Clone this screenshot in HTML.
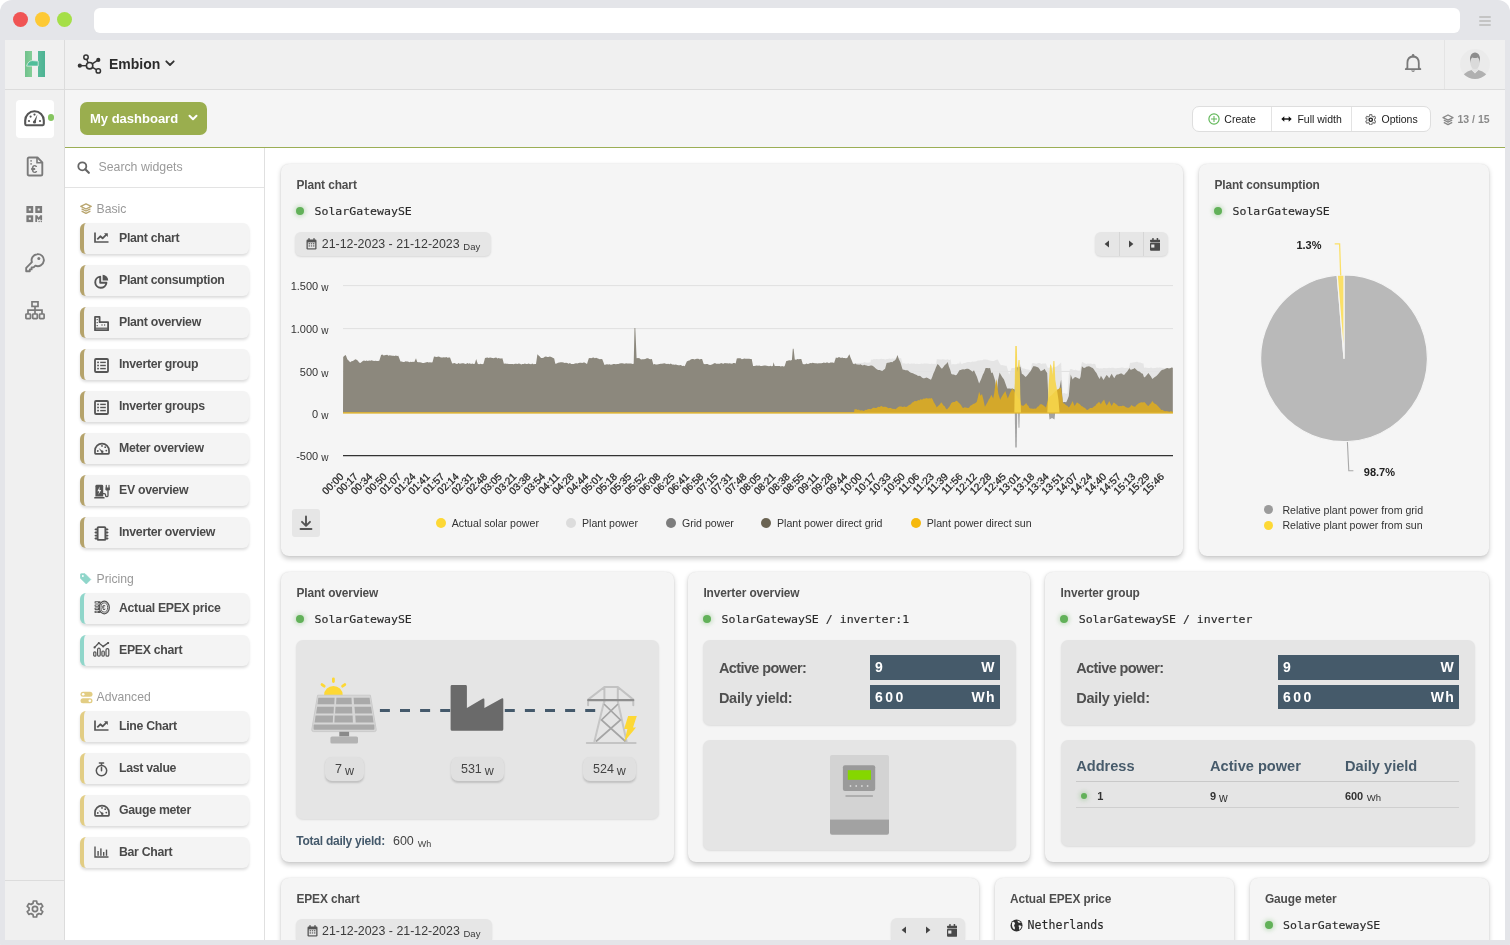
<!DOCTYPE html>
<html><head><meta charset="utf-8"><title>Embion dashboard</title>
<style>
*{box-sizing:border-box;margin:0;padding:0}
html,body{width:1510px;height:945px;overflow:hidden;background:#fff}
body{position:relative;font-family:"Liberation Sans",Arial,sans-serif;color:#444}
.abs{position:absolute}
.frame{position:absolute;left:0;top:0;width:1510px;height:955px;background:#e4e5e9;border-radius:12px}
.tl{position:absolute;top:12.2px;width:15px;height:15px;border-radius:50%}
.addr{position:absolute;left:94px;top:8px;width:1366px;height:25px;background:#fff;border-radius:6px}
.hb{position:absolute;left:1479px;width:12px;height:2px;background:#c4c4c4;border-radius:1px}
.win{position:absolute;left:5px;top:40px;width:1500px;height:900px;background:#fff;overflow:hidden;will-change:transform}
/* inside window everything uses page coords via .pc wrapper */
.pc{position:absolute;left:-5px;top:-40px;width:1510px;height:945px}
.side{position:absolute;left:5px;top:40px;width:60px;height:900px;background:#f0f0f0;border-right:1px solid #dcdcdc}
.head{position:absolute;left:65px;top:40px;width:1440px;height:50px;background:#f0f0f0;border-bottom:1px solid #dcdcdc}
.tool{position:absolute;left:65px;top:90px;width:1440px;height:57px;background:#f5f5f5}
.gline{position:absolute;left:65px;top:146.5px;width:1440px;height:1.5px;background:#9bae55}
.wpanel{position:absolute;left:65px;top:148px;width:200px;height:792px;background:#fff;border-right:1px solid #e0e0e0}
.card{position:absolute;background:#f5f5f5;border-radius:8px;box-shadow:0 2.5px 5px rgba(0,0,0,.2),0 0 1.5px rgba(0,0,0,.1)}
.ctitle{position:absolute;left:15.4px;top:14px;font-size:11.9px;letter-spacing:-0.1px;font-weight:bold;color:#4d4d4d;line-height:14px;white-space:nowrap}
.src{position:absolute;left:16px;top:40px;height:14px;white-space:nowrap;font-family:"DejaVu Sans Mono","Liberation Mono",monospace;font-size:11.55px;color:#2a2a2a;line-height:14px;-webkit-text-stroke:0.15px #2a2a2a}
.dot{position:absolute;width:8px;height:8px;border-radius:50%;background:#62b159;box-shadow:0 0 4px 1.5px rgba(98,177,89,.32)}
.src .dot{left:-1px;top:3px}
.src span.t{position:absolute;left:17.5px;top:0;transform:scaleY(0.94);transform-origin:0 11px}
.yl{font-size:11px;fill:#333;font-family:"Liberation Sans",Arial,sans-serif}
.yu{font-size:10px}
.xl{font-size:10.2px;font-weight:normal;fill:#2a2a2a;stroke:#2a2a2a;stroke-width:0.3px;font-family:"Liberation Sans",Arial,sans-serif}

.pill{position:absolute;height:24.4px;background:#e6e6e6;border-radius:6px;box-shadow:0 1px 2px rgba(0,0,0,.12)}
.pill .sep{position:absolute;top:0;width:1.2px;height:100%;background:#d6d6d6}
.pill .cal{position:absolute;left:11px;top:4.3px}
.pill .dr{position:absolute;left:26.5px;top:5.5px;font-size:12.4px;color:#3a3a3a;line-height:14px;white-space:nowrap}
.pill .day{position:absolute;left:168px;top:9px;font-size:9.5px;color:#3a3a3a;line-height:12px}
.leg{position:absolute;font-size:10.6px;color:#333;line-height:12px;white-space:nowrap;padding-left:11px}
.leg i{position:absolute;left:-5px;top:0.8px;width:10px;height:10px;border-radius:50%}

.pl{font-size:11px;font-weight:bold;fill:#222;font-family:"Liberation Sans",Arial,sans-serif}
.leg2{position:absolute;font-size:10.6px;color:#333;line-height:12px;white-space:nowrap;padding-left:13.5px}
.leg2 i{position:absolute;left:-4.5px;top:1.5px;width:9px;height:9px;border-radius:50%}
.ibox{position:absolute;background:#e5e5e5;border-radius:7px;box-shadow:0 1px 2px rgba(0,0,0,.10)}
.vbox{position:absolute;height:24px;background:#e0e0e0;border-radius:7px;box-shadow:0 1.5px 2px rgba(0,0,0,.16);text-align:center;white-space:nowrap;line-height:24px;color:#444}
.vbox b{font-weight:normal;font-size:12.5px;position:relative;top:-1.5px}
.vbox s{text-decoration:none;font-size:12.5px;margin-left:3px;position:relative;top:0.5px}
.tdy{position:absolute;left:15.3px;top:260.7px;white-space:nowrap;line-height:14px}
.tdy .k{font-size:12px;font-weight:bold;color:#44596b;letter-spacing:-0.25px}
.tdy .v{font-size:12.5px;color:#444;margin-left:8px}
.tdy .u{font-size:9px;color:#444;margin-left:4px;position:relative;top:2px}

.kl{position:absolute;font-size:14.5px;font-weight:bold;color:#505050;line-height:18px;white-space:nowrap;letter-spacing:-0.6px}
.vb{position:absolute;height:24.4px;background:#455a6a;color:#fff;font-weight:bold;font-size:14px;letter-spacing:2.5px;line-height:25.8px;white-space:nowrap}
.vb span{position:absolute;left:5px}
.vb em{font-style:normal;position:absolute;right:4px;letter-spacing:1.2px}
.th{position:absolute;top:186px;font-size:14.6px;font-weight:bold;color:#475b6b;line-height:17px;white-space:nowrap}
.td{position:absolute;top:217.5px;font-size:11px;font-weight:bold;color:#333;line-height:13px;white-space:nowrap}
.td s{text-decoration:none;font-weight:normal;font-size:9.5px;margin-left:3.5px;position:relative;top:1.5px}
.td s.w{font-size:12px;margin-left:3px;top:2px}
/* widget list */
.cat{position:absolute;left:80px;font-size:12.2px;color:#999;white-space:nowrap;line-height:14px}
.cat svg{position:absolute;left:0;top:1px}
.cat span{position:absolute;left:16.5px;top:0}
.wi{position:absolute;left:80px;width:169px;height:31px;background:#f4f4f4;border-radius:6px;box-shadow:0 2px 3px rgba(0,0,0,.14);border-left:4px solid #b5a36b;white-space:nowrap}
.wi.p{border-left-color:#8fd6ca}
.wi.a{border-left-color:#e2cd84}
.wi svg{position:absolute;left:9.5px;top:8.6px}
.wi span{position:absolute;left:35px;top:7.8px;font-size:12.3px;letter-spacing:-0.3px;font-weight:bold;color:#4a4a4a;line-height:14px}
.tb{top:113px;font-size:10.5px;color:#1a1a1a;line-height:12px;white-space:nowrap}
.sico{position:absolute;left:26px;width:18px;height:20px}
</style></head>
<body>
<div class="frame"></div>
<div class="tl" style="left:13.2px;background:#f05454"></div>
<div class="tl" style="left:35.4px;background:#fdc935"></div>
<div class="tl" style="left:57.3px;background:#a5df48"></div>
<div class="addr"></div>
<div class="hb" style="top:16px"></div>
<div class="hb" style="top:20px"></div>
<div class="hb" style="top:24px"></div>

<div class="win"><div class="pc">

  <div class="side"></div>
  <div class="abs" style="left:5px;top:89px;width:59px;height:1px;background:#dcdcdc"></div>
  <!-- logo -->
  <svg class="abs" style="left:25px;top:51px" width="20" height="26" viewBox="0 0 20 26">
    <defs><linearGradient id="lg1" x1="0" x2="1"><stop offset="0" stop-color="#6fc18c"/><stop offset="1" stop-color="#86cf98"/></linearGradient>
    <linearGradient id="lg2" x1="0" x2="1"><stop offset="0" stop-color="#5bbb9a"/><stop offset="1" stop-color="#4cb293"/></linearGradient></defs>
    <rect x="0" y="0" width="7" height="26" fill="url(#lg1)"/>
    <rect x="13" y="0" width="7" height="26" fill="url(#lg2)"/>
    <path d="M7.2 9.6 C4.5 9.8 2.6 11.6 1.6 15.1 L13.2 15.1 L13.2 10.1 Z" fill="#4fbe9a" stroke="#f0f0f0" stroke-width="0.7"/>
  </svg>
  <!-- active dashboard -->
  <div class="abs" style="left:16px;top:100px;width:38px;height:38px;background:#fff;border-radius:4px"></div>
  <svg class="abs" style="left:24px;top:109px" width="21" height="18" viewBox="0 0 21 18">
    <path d="M2.2 16.2 L18.8 16.2 Q19.8 16.2 19.8 14.8 L19.8 11.5 A9.3 9.3 0 0 0 1.2 11.5 L1.2 14.8 Q1.2 16.2 2.2 16.2 Z" fill="none" stroke="#555" stroke-width="2.1" stroke-linejoin="round"/>
    <path d="M9.4 12.8 L13.4 5.6 L11.6 13.4 Z" fill="#555"/>
    <circle cx="10.5" cy="13" r="1.6" fill="#555"/>
    <circle cx="5" cy="12" r="1.1" fill="#555"/><circle cx="6.6" cy="7.6" r="1.1" fill="#555"/><circle cx="10.5" cy="5.6" r="1.1" fill="#555"/><circle cx="16" cy="12" r="1.1" fill="#555"/>
  </svg>
  <div class="abs" style="left:47.8px;top:114.3px;width:6.5px;height:6.5px;border-radius:50%;background:#86c560"></div>
  <!-- invoice -->
  <svg class="abs" style="left:26px;top:156px" width="18" height="21" viewBox="0 0 18 21">
    <path d="M3 1.5 L11.5 1.5 L16.3 6.3 L16.3 18.2 Q16.3 19.5 15 19.5 L3 19.5 Q1.7 19.5 1.7 18.2 L1.7 2.8 Q1.7 1.5 3 1.5 Z" fill="none" stroke="#7a7a7a" stroke-width="1.9" stroke-linejoin="round"/>
    <path d="M11 1.8 L11 6.8 L16 6.8" fill="none" stroke="#7a7a7a" stroke-width="1.6"/>
    <rect x="4.3" y="4.2" width="1.6" height="1.4" fill="#7a7a7a"/><rect x="4.3" y="7.2" width="1.6" height="1.4" fill="#7a7a7a"/>
    <text x="5" y="17.4" font-size="11.5" font-weight="bold" fill="#7a7a7a" font-family="Liberation Sans">€</text>
  </svg>
  <!-- qr -->
  <svg class="abs" style="left:26px;top:206px" width="17" height="17" viewBox="0 0 17 17">
    <g fill="#7a7a7a"><rect x="0.4" y="0" width="6.8" height="7"/><rect x="9.3" y="0" width="6.8" height="7"/><rect x="0.4" y="9.3" width="6.8" height="6.8"/>
    <path d="M9.3 9.3 H11.2 L12.7 11.6 L14.2 9.3 H16.1 V14.2 H14.3 V12.5 L12.7 14.3 L11.1 12.5 V16.1 H9.3 Z"/><circle cx="13.1" cy="15.5" r="0.7"/><circle cx="15.3" cy="15.5" r="0.7"/></g>
    <g fill="#f0f0f0"><rect x="2.8" y="2.5" width="2" height="2"/><rect x="11.7" y="2.5" width="2" height="2"/><rect x="2.8" y="11.7" width="2" height="2"/></g>
  </svg>
  <!-- key -->
  <svg class="abs" style="left:24px;top:252px" width="21" height="21" viewBox="0 0 21 21">
    <path d="M13 2.2 A6 6 0 1 1 11.4 13.6 L9.6 15.4 L7.6 15.4 L7.6 17.4 L5.8 17.4 L5.8 19.2 L2.2 19.2 L2.2 15.8 L7.9 10.1 A6 6 0 0 1 13 2.2 Z" fill="none" stroke="#7a7a7a" stroke-width="1.9" stroke-linejoin="round"/>
    <circle cx="14.8" cy="6.4" r="1.5" fill="#7a7a7a"/>
  </svg>
  <!-- sitemap -->
  <svg class="abs" style="left:25px;top:301px" width="20" height="19" viewBox="0 0 20 19">
    <rect x="7" y="0.8" width="6" height="4.6" fill="none" stroke="#7a7a7a" stroke-width="1.7"/>
    <path d="M10 5.4 V9 M3 13 V9.2 H17 V13 M10 9 V13" fill="none" stroke="#7a7a7a" stroke-width="1.7"/>
    <rect x="0.9" y="13" width="4.6" height="4.6" rx="0.6" fill="none" stroke="#7a7a7a" stroke-width="1.7"/>
    <rect x="7.7" y="13" width="4.6" height="4.6" rx="0.6" fill="none" stroke="#7a7a7a" stroke-width="1.7"/>
    <rect x="14.5" y="13" width="4.6" height="4.6" rx="0.6" fill="none" stroke="#7a7a7a" stroke-width="1.7"/>
  </svg>
  <!-- bottom gear -->
  <div class="abs" style="left:5px;top:880px;width:59px;height:1px;background:#dcdcdc"></div>
  <svg class="abs" style="left:25.5px;top:900px" width="18" height="18" viewBox="-9 -9 18 18">
    <path id="gearp" d="M-1.6 -8 L1.6 -8 L2 -5.6 A6 6 0 0 1 3.9 -4.5 L6.2 -5.4 L7.8 -2.6 L5.9 -1.1 A6 6 0 0 1 5.9 1.1 L7.8 2.6 L6.2 5.4 L3.9 4.5 A6 6 0 0 1 2 5.6 L1.6 8 L-1.6 8 L-2 5.6 A6 6 0 0 1 -3.9 4.5 L-6.2 5.4 L-7.8 2.6 L-5.9 1.1 A6 6 0 0 1 -5.9 -1.1 L-7.8 -2.6 L-6.2 -5.4 L-3.9 -4.5 A6 6 0 0 1 -2 -5.6 Z" fill="none" stroke="#7a7a7a" stroke-width="1.7" stroke-linejoin="round"/>
    <circle cx="0" cy="0" r="2.6" fill="none" stroke="#7a7a7a" stroke-width="1.7"/>
  </svg>

  <div class="head"></div>
  <svg class="abs" style="left:77px;top:54px" width="25" height="21" viewBox="0 0 25 21">
    <g stroke="#333" stroke-width="1.4" fill="none">
      <line x1="12.6" y1="11.7" x2="9" y2="4"/><line x1="12.6" y1="11.7" x2="21.3" y2="5.9"/><line x1="12.6" y1="11.7" x2="21.3" y2="16.8"/><line x1="12.6" y1="11.7" x2="2.8" y2="11.7"/>
    </g>
    <circle cx="12.6" cy="11.7" r="3.2" fill="#f0f0f0" stroke="#333" stroke-width="1.6"/>
    <circle cx="9" cy="3.2" r="2.2" fill="#f0f0f0" stroke="#333" stroke-width="1.5"/>
    <circle cx="21.3" cy="5.9" r="2.1" fill="#333"/>
    <circle cx="21.3" cy="16.9" r="2.2" fill="#f0f0f0" stroke="#333" stroke-width="1.5"/>
    <circle cx="2.8" cy="11.7" r="2.1" fill="#333"/>
  </svg>
  <div class="abs" style="left:109px;top:55.8px;font-size:14px;font-weight:bold;color:#2b2b2b;line-height:17px">Embion</div>
  <svg class="abs" style="left:164.5px;top:60px" width="10" height="7" viewBox="0 0 10 7"><path d="M1.3 1.3 L5 5 L8.7 1.3" fill="none" stroke="#333" stroke-width="1.8" stroke-linecap="round" stroke-linejoin="round"/></svg>
  <!-- bell -->
  <svg class="abs" style="left:1404px;top:53px" width="18" height="21" viewBox="0 0 18 21">
    <circle cx="9.1" cy="2.3" r="1.3" fill="#7a7a7a"/>
    <path d="M3.4 14.8 L3.4 10 Q3.4 3.8 9.1 3.5 Q14.8 3.8 14.8 10 L14.8 14.8 L16.4 16.2 L1.8 16.2 Z" fill="none" stroke="#7a7a7a" stroke-width="1.8" stroke-linejoin="round"/>
    <path d="M6.9 17.6 Q9.1 20.2 11.3 17.6 Z" fill="#7a7a7a"/>
  </svg>
  <div class="abs" style="left:1444px;top:40px;width:1px;height:49px;background:#e4e4e4"></div>
  <!-- avatar -->
  <svg class="abs" style="left:1460px;top:49px" width="30" height="30" viewBox="0 0 30 30">
    <circle cx="15" cy="15" r="15" fill="#ebebeb"/>
    <path d="M3.8 25.2 Q7.5 22 11.6 21 L15 24.4 L18.4 21 Q22.5 22 26.2 25.2 Q21.5 30 15 30 Q8.5 30 3.8 25.2 Z" fill="#b0b0b0"/>
    <path d="M12 18.5 L18 18.5 L18.4 21 L15 24 L11.6 21 Z" fill="#e3e3e3"/>
    <ellipse cx="15" cy="13.6" rx="4.7" ry="6.6" fill="#dadada"/>
    <path d="M10.2 14 Q9.2 6 12.6 4.2 Q15 2.6 17.4 4.2 Q20.8 6 19.8 14 Q19.4 9.6 17.6 8.6 Q15 9.6 12.4 8.6 Q10.6 9.6 10.2 14 Z" fill="#8d8d8d"/>
  </svg>

  <div class="tool"></div>
  <div class="abs" style="left:80px;top:102px;width:127px;height:33px;background:#9aae4e;border-radius:7px"></div>
  <div class="abs" style="left:90px;top:109.5px;font-size:13px;font-weight:bold;color:#fff;line-height:17px">My dashboard</div>
  <svg class="abs" style="left:188px;top:114px" width="10" height="8" viewBox="0 0 10 8"><path d="M1.5 1.8 L5 5.3 L8.5 1.8" fill="none" stroke="#fff" stroke-width="2" stroke-linecap="round" stroke-linejoin="round"/></svg>
  <div class="abs" style="left:1192px;top:106px;width:239.3px;height:25.8px;background:#fff;border:1px solid #dedede;border-radius:7px"></div>
  <div class="abs" style="left:1271px;top:107px;width:1px;height:24px;background:#e3e3e3"></div>
  <div class="abs" style="left:1351.3px;top:107px;width:1px;height:24px;background:#e3e3e3"></div>
  <svg class="abs" style="left:1207.5px;top:113px" width="12" height="12" viewBox="0 0 12 12"><circle cx="6" cy="6" r="5.1" fill="none" stroke="#62b85a" stroke-width="1.2"/><path d="M6 3 V9 M3 6 H9" stroke="#62b85a" stroke-width="1.05"/></svg>
  <div class="abs tb" style="left:1224.3px">Create</div>
  <svg class="abs" style="left:1280.5px;top:115px" width="11" height="8" viewBox="0 0 11 8"><path d="M2 4 H9" stroke="#111" stroke-width="1.4"/><path d="M0.3 4 L3.3 1.3 V6.7 Z M10.7 4 L7.7 1.3 V6.7 Z" fill="#111"/></svg>
  <div class="abs tb" style="left:1297.4px">Full width</div>
  <svg class="abs" style="left:1364.7px;top:113.5px" width="11.5" height="11.5" viewBox="-9 -9 18 18"><use href="#gearp" stroke="#222" stroke-width="2.2"/><circle r="2.6" fill="none" stroke="#222" stroke-width="2.2"/></svg>
  <div class="abs tb" style="left:1381.5px">Options</div>
  <svg class="abs" style="left:1441.5px;top:113.5px" width="12" height="12" viewBox="0 0 12 12"><g fill="none" stroke="#888" stroke-width="1.3" stroke-linejoin="round"><path d="M6 1 L11 3.6 L6 6.2 L1 3.6 Z"/><path d="M1.8 6 L6 8.2 L10.2 6"/><path d="M1.8 8.4 L6 10.6 L10.2 8.4"/></g></svg>
  <div class="abs" style="left:1457.5px;top:113px;font-size:10.5px;font-weight:bold;color:#8a8a8a;line-height:12px">13 / 15</div>
  <div class="gline"></div>

  <div class="wpanel"></div>
  <div class="abs" style="left:65px;top:187px;width:199px;height:1px;background:#e3e3e3"></div>
  <svg class="abs" style="left:77.3px;top:161px" width="13" height="13" viewBox="0 0 13 13"><circle cx="5.3" cy="5.3" r="4" fill="none" stroke="#666" stroke-width="1.8"/><path d="M8.3 8.3 L11.8 11.8" stroke="#666" stroke-width="2.2" stroke-linecap="round"/></svg>
  <div class="abs" style="left:98.5px;top:160px;font-size:12.3px;color:#9a9a9a;line-height:15px">Search widgets</div>
  <div class="cat" style="top:201.5px"><svg width="12" height="12" viewBox="0 0 12 12"><g fill="none" stroke="#b9a56e" stroke-width="1.3" stroke-linejoin="round"><path d="M6 0.8 L11.2 3.4 L6 6 L0.8 3.4 Z"/><path d="M1.6 5.8 L6 8 L10.4 5.8"/><path d="M1.6 8.2 L6 10.4 L10.4 8.2"/></g></svg><span>Basic</span></div>
  <div class="cat" style="top:571.5px"><svg width="11.5" height="11" viewBox="0 0 13 12"><path d="M0.5 1.5 Q0.5 0.5 1.5 0.5 H5.6 L12.2 7.1 L7.1 12.2 L0.5 5.6 Z" fill="#8fd6ca" stroke="#8fd6ca" stroke-width="0.8" stroke-linejoin="round"/><circle cx="3.2" cy="3.2" r="1.1" fill="#fff"/></svg><span>Pricing</span></div>
  <div class="cat" style="top:689.5px"><svg width="13" height="13" viewBox="0 0 13 13"><rect x="0.5" y="0.7" width="12" height="5" rx="2.5" fill="#e2cd84"/><rect x="0.5" y="7.3" width="12" height="5" rx="2.5" fill="#e2cd84"/><circle cx="3.2" cy="3.2" r="1.3" fill="#fff"/><circle cx="9.8" cy="9.8" r="1.3" fill="#fff"/></svg><span>Advanced</span></div>

  <div class="wi " style="top:223px"><svg width="15" height="11" viewBox="0 0 15 11"><path d="M1 0.5 V10 H14.5" fill="none" stroke="#555" stroke-width="1.7"/><path d="M3.3 7.3 L6.3 4.3 L8.6 6.3 L12.3 2.6" fill="none" stroke="#555" stroke-width="1.8" stroke-linejoin="round"/><path d="M10 1.2 L13.8 1.2 L13.8 5 Z" fill="#555"/></svg><span>Plant chart</span></div>
  <div class="wi " style="top:265px"><svg width="15" height="15" viewBox="0 0 15 15"><path d="M6.2 2.6 A5.6 5.6 0 1 0 12.4 8.8 L6.2 8.8 Z" fill="none" stroke="#555" stroke-width="1.9" stroke-linejoin="round"/><path d="M8.6 0.8 A5.6 5.6 0 0 1 14.2 6.4 L8.6 6.4 Z" fill="#555"/></svg><span>Plant consumption</span></div>
  <div class="wi " style="top:307px"><svg width="15" height="15" viewBox="0 0 15 15"><path d="M1 14.2 V0.9 H5.6 V6.2 H14.1 V14.2 Z" fill="none" stroke="#555" stroke-width="1.8" stroke-linejoin="round"/><g fill="#555"><rect x="2.6" y="3" width="1.2" height="1.2"/><rect x="2.6" y="6" width="1.2" height="1.2"/><rect x="2.6" y="9" width="1.2" height="1.2"/><rect x="7.4" y="8.4" width="1.2" height="1.2"/><rect x="10" y="8.4" width="1.2" height="1.2"/><rect x="1.4" y="11.6" width="12.4" height="1.2"/></g></svg><span>Plant overview</span></div>
  <div class="wi " style="top:349px"><svg width="15" height="15" viewBox="0 0 15 15"><rect x="1" y="1" width="13" height="13" rx="1" fill="none" stroke="#555" stroke-width="1.8"/><g fill="#555"><rect x="3.2" y="3.6" width="1.7" height="1.6"/><rect x="3.2" y="6.7" width="1.7" height="1.6"/><rect x="3.2" y="9.8" width="1.7" height="1.6"/><rect x="6.2" y="3.7" width="5.6" height="1.4"/><rect x="6.2" y="6.8" width="5.6" height="1.4"/><rect x="6.2" y="9.9" width="5.6" height="1.4"/></g></svg><span>Inverter group</span></div>
  <div class="wi " style="top:391px"><svg width="15" height="15" viewBox="0 0 15 15"><rect x="1" y="1" width="13" height="13" rx="1" fill="none" stroke="#555" stroke-width="1.8"/><g fill="#555"><rect x="3.2" y="3.6" width="1.7" height="1.6"/><rect x="3.2" y="6.7" width="1.7" height="1.6"/><rect x="3.2" y="9.8" width="1.7" height="1.6"/><rect x="6.2" y="3.7" width="5.6" height="1.4"/><rect x="6.2" y="6.8" width="5.6" height="1.4"/><rect x="6.2" y="9.9" width="5.6" height="1.4"/></g></svg><span>Inverter groups</span></div>
  <div class="wi " style="top:433px"><svg width="16" height="13" viewBox="0 0 16 13"><path d="M1.7 11.8 H14.3 Q15 11.8 15 11 V8.6 A7 7 0 0 0 1 8.6 V11 Q1 11.8 1.7 11.8 Z" fill="none" stroke="#555" stroke-width="1.7" stroke-linejoin="round"/><path d="M8.9 9.2 L4.6 6 L7.6 10.4 Z" fill="#555"/><circle cx="8.3" cy="9.8" r="1.2" fill="#555"/><circle cx="3.8" cy="9" r="0.9" fill="#555"/><circle cx="8" cy="3.9" r="0.9" fill="#555"/><circle cx="11.2" cy="5.2" r="0.9" fill="#555"/><circle cx="12.3" cy="8.6" r="0.9" fill="#555"/></svg><span>Meter overview</span></div>
  <div class="wi " style="top:475px"><svg width="16" height="15" viewBox="0 0 16 15"><path d="M1.4 12.6 V2.2 Q1.4 0.8 2.8 0.8 H7.8 Q9.2 0.8 9.2 2.2 V12.6 Z" fill="#555"/><rect x="0.2" y="13" width="10.4" height="1.6" rx="0.4" fill="#555"/><path d="M5.8 2.6 L3.4 7.2 H5.2 L4.4 10.8 L7.2 6 H5.4 Z" fill="#f4f4f4"/><path d="M9 9.6 H10.2 Q11.6 9.6 11.6 11 V11.4 Q11.6 12.6 12.8 12.6 Q14 12.6 14 11.4 V6.6" fill="none" stroke="#555" stroke-width="1.3"/><path d="M12.3 1.4 V3.6 M15 1.4 V3.6" stroke="#555" stroke-width="1.2" stroke-linecap="round"/><path d="M11.4 3.6 H15.9 V5.2 Q15.9 6.8 13.65 6.8 Q11.4 6.8 11.4 5.2 Z" fill="#555"/></svg><span>EV overview</span></div>
  <div class="wi " style="top:517px"><svg width="15" height="15" viewBox="0 0 15 15"><rect x="3.6" y="1.1" width="7.8" height="12.8" rx="0.9" fill="none" stroke="#555" stroke-width="1.9"/><g fill="#555"><path d="M3 2.4 H1.2 L0.4 3.3 L1.2 4.2 H3 Z"/><path d="M3 5.6 H1.2 L0.4 6.5 L1.2 7.4 H3 Z"/><path d="M3 8.8 H1.2 L0.4 9.7 L1.2 10.6 H3 Z"/><path d="M3 11.6 H1.2 L0.4 12.5 L1.2 13.4 H3 Z"/><path d="M12 2.4 H13.8 L14.6 3.3 L13.8 4.2 H12 Z"/><path d="M12 5.6 H13.8 L14.6 6.5 L13.8 7.4 H12 Z"/><path d="M12 8.8 H13.8 L14.6 9.7 L13.8 10.6 H12 Z"/><path d="M12 11.6 H13.8 L14.6 12.5 L13.8 13.4 H12 Z"/></g></svg><span>Inverter overview</span></div>
  <div class="wi p" style="top:593px"><svg width="16" height="16" viewBox="0 0 16 16" style="top:7.4px"><g fill="#555"><rect x="0.6" y="1.2" width="6" height="2.3" rx="0.6"/><rect x="0.6" y="4.4" width="6" height="2.3" rx="0.6"/><rect x="0.6" y="7.6" width="6" height="2.3" rx="0.6"/><rect x="0.6" y="10.8" width="6" height="2.3" rx="0.6"/></g><g fill="#f4f4f4"><rect x="1.6" y="2" width="2.4" height="0.7"/><rect x="1.6" y="5.2" width="2.4" height="0.7"/><rect x="1.6" y="8.4" width="2.4" height="0.7"/><rect x="1.6" y="11.6" width="2.4" height="0.7"/></g><ellipse cx="10.3" cy="7.5" rx="5" ry="6.3" fill="#f4f4f4" stroke="#555" stroke-width="1.3"/><ellipse cx="10.3" cy="7.5" rx="3.3" ry="4.6" fill="none" stroke="#555" stroke-width="0.9"/><text x="8.1" y="10" font-size="6.5" font-weight="bold" fill="#555" font-family="Liberation Sans">€</text></svg><span>Actual EPEX price</span></div>
  <div class="wi p" style="top:635px"><svg width="17" height="15" viewBox="0 0 17 15" style="top:7.2px;left:9.3px"><path d="M1.6 5.4 L5.8 1 L10.2 4.4 L15.2 0.9" fill="none" stroke="#555" stroke-width="1.3" stroke-linejoin="round"/><g fill="#555"><circle cx="1.6" cy="5.4" r="1.1"/><circle cx="5.8" cy="1" r="1"/><circle cx="10.2" cy="4.4" r="1"/><circle cx="15.2" cy="0.9" r="1"/></g><g fill="none" stroke="#555" stroke-width="1.2"><rect x="0.7" y="9.8" width="2.2" height="4.4" rx="1"/><rect x="4.6" y="6.2" width="2.6" height="8" rx="1.2"/><rect x="8.9" y="9" width="2.4" height="5.2" rx="1.1"/><rect x="13" y="6.6" width="2.8" height="7.6" rx="1.3"/></g></svg><span>EPEX chart</span></div>
  <div class="wi a" style="top:711px"><svg width="15" height="11" viewBox="0 0 15 11"><path d="M1 0.5 V10 H14.5" fill="none" stroke="#555" stroke-width="1.7"/><path d="M3.3 7.3 L6.3 4.3 L8.6 6.3 L12.3 2.6" fill="none" stroke="#555" stroke-width="1.8" stroke-linejoin="round"/><path d="M10 1.2 L13.8 1.2 L13.8 5 Z" fill="#555"/></svg><span>Line Chart</span></div>
  <div class="wi a" style="top:753px"><svg width="15" height="15" viewBox="0 0 15 15"><circle cx="7.5" cy="8.6" r="5.2" fill="none" stroke="#555" stroke-width="1.5"/><path d="M5.4 1 H9.6 M7.5 1 V3.4 M7.5 8.8 V5.6" stroke="#555" stroke-width="1.5" stroke-linecap="round"/></svg><span>Last value</span></div>
  <div class="wi a" style="top:795px"><svg width="16" height="13" viewBox="0 0 16 13"><path d="M1.7 11.8 H14.3 Q15 11.8 15 11 V8.6 A7 7 0 0 0 1 8.6 V11 Q1 11.8 1.7 11.8 Z" fill="none" stroke="#555" stroke-width="1.7" stroke-linejoin="round"/><path d="M8.9 9.2 L4.6 6 L7.6 10.4 Z" fill="#555"/><circle cx="8.3" cy="9.8" r="1.2" fill="#555"/><circle cx="3.8" cy="9" r="0.9" fill="#555"/><circle cx="8" cy="3.9" r="0.9" fill="#555"/><circle cx="11.2" cy="5.2" r="0.9" fill="#555"/><circle cx="12.3" cy="8.6" r="0.9" fill="#555"/></svg><span>Gauge meter</span></div>
  <div class="wi a" style="top:837px"><svg width="15" height="12" viewBox="0 0 15 12"><path d="M1 0.6 V11 H14.5" fill="none" stroke="#555" stroke-width="1.4"/><g fill="#555"><rect x="3.4" y="5" width="1.4" height="4.8"/><rect x="6.2" y="2.4" width="1.4" height="7.4"/><rect x="9" y="6" width="1.4" height="3.8"/><rect x="11.8" y="3.6" width="1.4" height="6.2"/></g></svg><span>Bar Chart</span></div>

  <!-- Row 1 -->
  <div class="card" style="left:281px;top:164px;width:902px;height:392px">
    <div class="ctitle">Plant chart</div>
    <div class="src"><i class="dot"></i><span class="t">SolarGatewaySE</span></div>
    <svg class="abs" style="left:0;top:0" width="902" height="392" viewBox="0 0 902 392">
<line x1="62" x2="892" y1="121.6" y2="121.6" stroke="#e0e0e0" stroke-width="1"/>
<line x1="62" x2="892" y1="164.6" y2="164.6" stroke="#e0e0e0" stroke-width="1"/>
<line x1="62" x2="892" y1="207.4" y2="207.4" stroke="#e0e0e0" stroke-width="1"/>
<polygon points="572.0,248.8 572.0,199.5 572.8,199.0 574.3,199.0 575.8,199.0 577.4,199.0 578.9,199.1 580.4,198.8 581.9,198.9 583.4,198.1 584.9,198.4 586.5,198.7 588.0,198.4 589.5,198.2 590.0,195.5 591.4,195.8 592.8,195.1 594.3,195.3 595.7,195.1 597.1,195.3 598.5,195.3 599.9,194.8 601.3,194.9 602.8,194.9 604.2,195.4 605.6,195.0 607.1,195.1 608.5,194.6 610.0,195.0 611.4,194.4 612.9,194.7 614.3,194.2 615.8,194.0 617.2,194.7 618.6,194.0 620.1,194.2 621.6,199.4 623.1,199.2 624.5,199.8 626.0,199.8 627.4,199.3 628.9,199.9 630.3,199.6 631.8,199.7 633.2,199.4 634.7,200.0 636.1,199.8 637.6,200.1 639.0,200.0 640.5,199.6 641.9,199.7 643.4,199.5 644.8,199.5 646.3,199.5 647.7,199.7 649.2,200.0 650.6,199.5 652.1,200.1 653.5,199.8 655.0,200.0 655.8,195.3 657.3,195.2 658.9,195.6 660.4,195.4 662.0,195.3 663.5,195.5 665.1,195.7 666.6,195.2 668.2,195.9 669.7,195.6 670.4,200.4 672.0,199.9 673.6,200.3 675.2,200.3 676.8,199.5 678.4,199.7 679.0,197.0 680.0,199.7 681.4,199.7 682.8,199.1 684.2,199.0 685.6,198.3 687.1,198.1 688.5,198.0 689.9,198.3 691.3,197.5 692.7,197.7 694.1,197.6 695.5,197.3 696.9,196.6 698.4,196.4 699.8,196.3 701.2,196.2 702.6,195.4 704.0,195.5 706.5,195.8 708.1,196.3 709.7,196.7 711.3,197.1 712.9,197.1 714.8,195.9 716.7,195.4 718.3,198.7 719.9,201.3 721.3,201.1 722.8,201.4 724.2,201.8 725.6,201.8 728.1,210.4 730.6,204.1 733.2,204.1 734.8,203.5 736.4,202.1 737.9,201.6 739.5,200.3 740.8,204.1 742.3,204.6 743.8,204.8 745.2,205.2 746.7,205.5 748.2,205.8 749.7,206.6 751.0,199.2 752.5,199.0 754.1,199.4 755.6,199.7 757.2,199.1 758.7,199.1 760.3,199.9 761.8,199.5 763.4,199.5 764.9,199.6 766.8,204.1 768.5,203.6 770.1,203.7 771.8,203.6 773.4,203.0 775.1,202.8 777.0,201.5 778.5,199.9 780.1,198.4 781.7,229.5 783.3,229.1 784.9,229.8 786.5,229.5 787.8,210.4 789.0,205.3 790.5,205.1 791.9,205.7 793.4,206.1 794.8,205.7 796.3,206.4 797.7,206.8 799.2,206.6 801.1,197.7 802.6,198.8 804.1,199.6 805.5,199.9 807.0,199.4 808.4,199.7 809.9,199.5 811.3,200.2 812.8,199.8 814.2,200.0 815.5,204.1 816.9,204.0 818.3,204.5 819.7,204.3 821.1,204.4 822.5,204.0 824.0,204.0 825.4,204.2 826.8,204.0 828.2,203.8 829.6,203.9 831.0,203.7 832.4,203.8 833.8,204.3 835.2,204.3 836.6,204.0 838.0,203.9 839.4,203.7 840.9,203.5 842.3,203.7 843.7,204.1 845.1,204.1 846.5,203.7 847.9,203.8 849.1,198.7 850.5,198.7 851.9,198.5 853.3,198.3 854.7,198.0 856.1,197.7 857.7,198.4 859.3,198.5 860.9,199.3 862.5,199.6 863.1,203.8 864.5,203.6 865.9,203.8 867.4,204.0 868.8,204.0 870.2,203.6 871.7,204.2 873.1,203.9 874.5,203.9 875.9,203.4 877.3,203.8 878.8,203.6 880.2,203.8 881.9,204.1 883.6,204.1 885.3,204.3 886.9,204.4 888.5,204.2 890.2,204.2 891.8,203.8 891.8,248.8" fill="#e3e3e3" fill-opacity="0.9"/>
<polygon points="62.0,248.8 62.2,193.1 63.5,191.8 64.8,191.0 66.3,195.3 67.8,196.8 69.2,198.2 70.5,197.3 71.8,196.9 73.0,196.2 74.3,195.3 75.6,195.8 76.9,196.7 78.1,198.4 79.4,199.0 80.6,197.9 81.8,197.1 83.0,196.5 84.3,197.0 85.6,196.5 86.8,196.9 88.1,196.6 89.4,196.8 90.6,196.3 91.9,196.8 93.2,197.1 94.5,196.7 95.8,197.0 97.0,196.9 98.3,196.8 100.1,191.0 101.3,190.6 102.6,191.4 103.8,191.2 105.0,191.0 106.2,190.8 107.5,191.7 108.7,191.3 109.9,191.6 111.2,191.8 112.4,191.7 113.6,192.0 114.8,191.5 116.1,192.0 117.3,191.7 119.5,197.5 120.8,197.5 122.0,198.0 123.3,198.0 124.5,197.3 125.8,197.4 127.0,197.5 128.3,198.3 129.5,197.8 130.8,198.0 132.0,197.8 133.3,198.0 135.0,194.2 136.2,198.0 137.5,198.2 138.8,198.3 140.2,198.5 141.5,198.9 142.8,199.0 144.6,198.6 146.4,198.0 147.7,198.5 148.9,198.3 150.2,198.6 151.5,198.2 153.0,192.4 154.2,192.8 155.5,193.1 156.7,192.8 157.9,192.4 159.2,193.2 160.4,193.4 161.6,193.5 162.8,193.2 164.1,193.4 165.3,193.0 166.5,193.7 167.8,193.6 169.0,193.6 171.2,199.4 172.5,199.2 173.7,199.0 175.0,199.8 176.2,200.0 177.5,199.1 178.7,199.8 180.0,199.4 181.2,199.2 182.5,199.3 183.8,199.8 185.0,200.0 186.3,199.1 187.5,199.7 188.8,199.2 190.0,199.9 191.3,199.5 192.5,200.1 193.8,199.7 195.2,195.0 196.7,199.7 198.1,200.2 199.6,199.7 201.1,200.2 202.5,199.7 204.0,193.9 205.2,193.7 206.5,193.5 207.7,194.1 209.0,193.5 210.2,193.7 211.5,193.9 212.7,194.2 213.9,193.7 215.2,193.6 216.4,194.5 217.7,193.9 218.9,194.6 220.2,194.6 221.4,194.2 222.9,199.7 224.1,199.6 225.4,199.7 226.6,199.8 227.8,199.9 229.1,199.9 230.3,199.9 231.5,199.9 232.8,200.3 234.0,199.8 235.2,199.8 236.5,200.1 237.7,199.6 239.0,199.7 240.2,200.4 241.4,200.0 242.7,200.0 243.9,199.5 245.1,199.9 246.4,200.1 247.6,199.5 248.8,200.1 250.1,200.2 251.3,199.6 252.5,200.2 253.8,200.1 255.0,200.1 256.4,190.2 257.6,191.6 258.8,192.5 260.0,193.9 261.3,193.9 262.5,193.7 263.8,192.8 265.0,192.6 266.3,193.0 267.5,193.1 268.8,192.4 270.3,192.9 271.7,193.8 273.2,194.6 274.3,199.7 275.7,199.4 277.0,198.8 278.4,198.4 279.8,198.2 281.1,198.2 282.4,198.5 283.7,198.9 285.0,198.8 286.3,199.1 287.6,199.7 288.9,199.1 290.2,199.9 291.5,200.0 292.7,200.1 293.9,199.5 295.1,199.2 296.3,199.6 297.6,198.9 298.8,198.7 300.0,198.8 301.2,198.9 302.4,198.5 303.6,198.6 304.8,199.3 306.0,200.0 307.8,194.2 309.0,193.9 310.2,194.2 311.4,193.7 312.6,193.6 313.8,194.2 315.1,193.8 316.3,194.2 317.6,194.7 318.8,195.2 320.1,195.0 321.3,195.3 323.5,200.9 324.8,200.5 326.0,200.3 327.3,200.6 328.6,200.2 329.8,200.7 331.1,200.6 332.4,199.9 333.6,199.9 334.9,200.3 336.2,200.0 337.4,200.1 338.7,199.5 340.0,199.2 341.2,199.3 342.5,199.4 343.8,199.7 345.0,199.2 346.3,199.4 347.6,199.5 348.9,199.5 350.2,199.5 351.4,200.1 352.7,199.7 353.5,164.0 354.3,164.0 355.6,194.2 357.0,194.1 358.5,194.3 360.0,195.5 361.4,195.3 362.9,195.3 364.3,195.1 365.8,194.2 367.1,194.3 368.3,195.1 369.6,195.2 370.9,195.0 372.3,200.4 373.5,200.1 374.8,200.5 376.0,200.5 377.3,200.3 378.5,200.1 379.7,199.8 381.0,199.8 382.2,199.6 383.5,199.3 384.7,199.7 386.0,199.9 387.2,199.7 388.5,200.3 389.8,199.6 391.1,200.5 392.4,200.4 393.6,200.7 394.9,200.4 396.2,201.1 397.4,201.3 398.7,201.3 399.9,201.0 401.2,202.0 402.4,201.7 403.7,202.3 405.8,197.5 407.1,196.7 408.4,196.4 409.7,195.6 411.0,195.0 412.3,194.9 413.5,195.4 414.8,195.1 416.0,194.8 417.3,194.8 418.6,195.4 419.8,195.0 421.1,195.0 422.6,199.7 423.9,200.2 425.2,200.0 426.6,200.1 427.9,200.7 429.2,200.9 431.0,200.5 432.8,199.4 434.0,199.1 435.2,199.7 436.4,199.8 437.7,199.7 438.9,199.7 440.1,198.9 441.3,199.5 442.5,199.8 443.8,198.9 445.0,199.2 446.2,199.2 447.4,199.4 448.6,199.3 449.8,199.4 451.1,199.7 452.3,198.9 453.5,199.0 454.7,199.4 455.8,194.6 457.0,194.3 458.3,194.3 459.5,194.3 460.8,195.2 462.0,195.1 463.2,194.4 464.5,194.8 465.7,194.7 467.0,194.7 468.2,194.8 469.5,195.1 470.7,195.0 472.1,201.9 473.3,202.0 474.6,201.8 475.8,201.6 477.0,201.7 478.3,201.5 479.5,202.0 480.7,202.1 482.0,201.8 483.2,201.5 484.4,201.6 485.6,201.8 486.9,202.0 488.1,202.2 489.3,201.8 490.6,202.2 491.8,201.9 492.6,198.2 493.7,201.9 494.9,202.1 496.2,201.9 497.4,201.9 498.7,202.1 499.9,202.4 501.1,202.1 502.4,202.4 503.6,202.3 505.3,197.1 506.7,196.8 508.1,196.3 509.5,196.4 510.9,196.1 511.8,184.8 512.6,184.8 513.8,195.6 515.1,195.7 516.4,194.9 517.7,195.2 519.0,195.0 520.3,195.0 521.8,200.0 523.0,200.3 524.2,200.2 525.4,199.5 526.6,200.0 527.9,199.7 529.1,199.1 530.3,199.2 531.5,198.7 532.7,199.0 534.0,199.3 535.2,199.2 536.5,199.4 537.8,199.3 539.1,199.2 540.4,199.2 541.6,199.1 542.9,198.6 544.2,199.1 545.5,198.5 546.7,198.6 548.0,199.3 549.3,198.5 550.6,198.6 551.8,198.6 553.1,199.0 554.9,193.6 556.2,194.0 557.4,193.3 558.7,193.2 559.9,194.1 561.2,193.4 562.4,194.1 563.7,194.0 564.9,194.2 566.2,193.9 568.4,190.2 569.6,193.8 570.8,196.6 572.0,199.7 573.2,200.2 574.5,199.6 575.7,200.5 577.0,200.4 578.2,200.8 579.4,200.3 580.7,201.1 581.9,201.5 583.1,200.8 584.4,201.2 585.6,201.6 586.9,202.1 588.1,201.9 589.5,201.4 591.0,201.5 592.3,202.2 593.5,203.2 594.8,204.6 596.1,205.5 597.4,206.1 598.7,206.1 599.9,206.5 601.2,207.0 602.7,205.8 604.1,204.8 605.6,199.0 607.0,198.7 608.5,198.5 610.0,198.0 611.4,198.2 612.6,197.1 613.8,196.5 615.0,195.0 616.5,191.0 617.9,195.3 619.4,198.2 621.6,205.5 623.0,205.7 624.5,206.3 625.9,206.3 627.1,206.6 628.3,207.7 629.5,208.4 630.8,208.9 632.0,209.3 633.2,209.9 634.5,210.4 635.8,211.1 637.0,211.9 638.3,211.7 639.6,212.2 640.9,213.4 642.1,214.2 643.4,214.3 645.6,213.5 647.1,214.3 648.5,214.9 650.0,215.7 651.2,213.0 652.4,209.6 653.6,207.0 655.0,203.3 656.5,200.0 658.0,201.3 659.4,203.3 660.9,204.8 662.4,202.9 663.8,201.1 665.2,199.9 666.7,198.0 667.9,202.4 669.2,205.7 670.4,209.9 671.7,210.4 673.0,210.4 674.2,211.2 675.5,211.1 677.0,208.8 678.4,206.3 679.6,205.9 680.9,205.6 682.1,205.2 683.4,205.4 684.6,205.1 685.9,204.7 687.1,204.8 688.6,205.6 690.0,206.6 691.5,207.7 693.0,206.3 694.5,209.8 695.9,212.8 698.1,219.4 700.2,215.0 701.7,211.0 703.1,208.2 704.6,204.1 706.1,204.1 707.6,204.2 709.1,204.1 710.3,209.1 711.6,208.5 712.9,212.6 714.2,216.8 715.5,231.0 717.0,216.0 718.6,208.5 720.1,211.2 721.5,213.5 723.0,215.5 724.6,220.0 726.2,224.4 727.5,224.4 728.8,224.6 730.0,224.8 731.3,224.4 732.5,224.9 733.8,225.6 734.5,203.0 735.8,203.2 737.0,203.4 738.2,202.8 739.5,202.8 740.8,209.8 742.1,210.6 743.3,211.7 744.6,213.0 745.9,211.7 747.1,210.2 748.4,208.5 749.7,206.9 750.9,204.7 752.2,202.2 753.5,202.2 754.8,202.5 756.0,202.9 757.3,203.4 758.5,205.0 759.8,207.2 761.1,206.6 762.3,205.9 763.6,204.7 764.9,207.3 766.2,209.1 767.5,237.0 768.8,237.0 770.1,237.8 771.4,237.4 772.7,237.7 774.0,238.0 775.5,236.5 777.0,234.5 778.5,224.6 780.1,215.5 781.7,238.3 783.5,237.9 785.2,238.3 786.5,235.5 787.8,232.0 789.7,210.4 791.6,215.5 792.8,214.0 794.1,213.0 795.6,213.5 797.0,214.3 798.5,214.9 799.5,213.0 800.9,202.2 802.8,204.1 804.1,203.8 805.3,202.7 806.6,202.5 807.9,202.2 809.2,202.8 810.4,203.5 811.7,204.1 813.0,205.5 814.2,207.5 815.5,209.1 817.1,212.5 818.7,214.9 819.9,211.7 821.2,213.8 822.5,216.1 824.0,213.6 825.6,211.0 826.9,212.2 828.2,214.2 829.5,211.8 830.7,209.8 832.0,212.2 833.3,214.2 834.5,211.9 835.8,210.4 837.1,210.5 838.3,210.1 839.6,209.4 840.9,209.4 842.1,210.7 843.4,210.7 844.7,208.9 846.0,207.7 847.2,206.0 848.5,204.1 849.8,206.0 851.1,205.2 852.3,204.9 853.6,204.1 854.9,205.3 856.1,206.5 857.4,207.2 858.9,207.8 860.3,209.2 861.8,209.8 863.1,213.6 864.6,212.6 866.0,210.8 867.5,209.1 868.8,211.1 870.0,212.6 871.3,214.9 872.6,214.0 873.8,213.0 875.1,212.3 876.4,211.1 877.7,209.6 878.9,208.1 880.2,206.6 881.5,205.7 882.8,205.6 884.0,205.0 885.3,204.3 886.6,203.9 887.9,204.5 889.2,204.2 890.5,203.5 891.8,203.8 891.8,248.8" fill="#8c887d"/>
<polygon points="733.8,248.5 734.3,283.4 735.7,283.4 736.2,248.5" fill="#a3a3a3"/>
<polygon points="737.1,248.5 737.5,263.7 738.4,263.7 738.8,248.5" fill="#a3a3a3"/>
<polygon points="767.8,248.5 768.5,255.5 771.0,254.0 773.5,255.5 774.2,248.5" fill="#a3a3a3"/>
<polygon points="62.0,248.5 573.0,248.5 573.5,245.2 574.6,245.2 575.7,245.2 576.8,246.1 577.9,245.6 578.9,246.4 580.0,246.4 581.1,246.2 582.2,247.0 583.3,246.7 584.4,245.8 585.5,246.0 586.6,245.3 587.7,245.0 588.8,245.1 589.9,245.3 591.0,244.6 592.1,243.8 593.2,243.7 594.3,243.9 595.4,243.9 596.4,243.2 597.5,242.7 598.6,243.1 599.7,242.2 600.8,241.9 601.9,243.1 603.0,242.7 604.1,242.7 605.2,242.9 606.3,243.4 607.4,244.2 608.5,244.1 609.7,243.9 610.8,244.6 612.0,244.9 613.1,244.8 614.3,245.2 615.8,244.2 617.2,243.1 618.3,242.5 619.4,242.5 620.5,242.6 621.5,243.1 622.6,242.8 623.7,242.6 624.8,242.9 625.9,242.7 626.9,241.9 628.0,240.9 629.0,240.7 630.1,239.9 631.1,238.5 632.2,238.2 633.2,237.3 634.2,237.1 635.2,237.2 636.3,236.8 637.3,236.0 638.3,236.6 639.3,235.3 640.3,235.4 641.4,235.5 642.4,234.5 643.4,234.7 644.4,234.6 645.5,233.9 646.5,234.6 647.6,234.6 648.6,234.2 649.7,234.5 650.7,233.9 651.7,235.6 652.7,237.9 653.8,239.7 654.8,241.6 655.8,243.4 656.9,242.1 658.0,241.3 659.1,240.1 660.2,238.3 661.4,239.7 662.5,241.4 663.7,242.2 664.8,244.4 666.0,245.6 667.1,244.1 668.2,242.9 669.3,241.0 670.4,239.0 671.6,238.3 672.7,238.0 673.9,237.9 675.0,236.7 676.2,236.9 677.2,238.2 678.2,239.1 679.3,240.3 680.3,241.6 681.3,243.4 682.5,243.9 683.6,243.2 684.8,243.5 685.9,243.8 687.1,244.1 688.2,243.6 689.3,241.8 690.4,241.3 691.5,240.5 692.6,239.8 693.7,239.5 694.8,238.7 695.9,237.6 697.0,233.1 698.1,227.7 699.5,231.8 701.0,230.0 702.5,236.1 703.9,242.7 705.2,240.4 706.5,238.3 707.8,235.6 709.0,233.7 710.3,230.7 712.2,234.5 713.3,228.5 714.3,221.0 715.4,214.9 717.3,229.5 719.2,235.8 720.2,233.6 721.2,231.9 722.3,230.1 723.3,228.7 724.3,226.9 725.5,230.8 726.8,234.5 727.9,231.7 729.0,228.9 730.2,226.8 731.3,224.4 732.5,226.1 733.8,228.2 735.0,231.0 736.0,232.3 737.0,234.0 738.0,235.0 739.0,236.0 740.2,240.9 742.1,242.1 743.1,241.1 744.2,240.2 745.2,239.0 746.3,240.9 747.3,241.8 748.4,244.0 749.5,244.6 750.5,244.6 751.6,244.8 752.7,244.8 753.7,244.5 754.8,244.7 755.8,243.7 756.8,242.4 757.8,242.2 758.8,240.6 759.8,240.2 760.8,240.3 761.8,241.1 762.9,241.7 763.9,242.6 764.9,243.4 766.2,238.4 767.5,234.5 768.7,232.7 769.8,231.7 771.0,231.0 772.1,229.4 773.1,228.7 774.2,227.2 775.2,227.1 776.3,225.6 777.6,225.1 778.8,223.9 780.1,223.7 782.0,239.0 783.2,239.6 784.3,240.6 785.5,241.5 786.6,242.1 787.8,243.4 789.1,241.7 790.3,239.7 791.6,237.0 793.5,242.1 794.8,240.2 796.0,238.3 797.1,239.2 798.2,239.7 799.3,240.7 800.4,242.1 801.6,242.6 802.8,243.4 804.1,244.0 805.3,245.5 806.6,246.0 807.9,244.9 809.1,244.1 810.4,244.0 811.7,243.8 812.9,242.6 814.2,241.9 815.5,240.1 816.7,239.2 818.0,237.7 819.9,240.2 821.0,238.1 822.0,237.1 823.1,235.5 824.3,239.1 825.6,241.5 826.9,239.7 828.2,237.1 829.5,239.8 830.7,242.1 832.6,238.6 833.7,239.1 834.8,240.1 836.0,240.7 837.1,241.9 838.1,242.3 839.2,242.0 840.2,242.3 841.3,241.8 842.4,241.7 843.4,242.1 844.5,242.9 845.7,243.5 846.8,243.7 847.9,243.7 849.2,242.8 850.4,241.1 851.7,242.0 852.9,242.5 854.2,242.8 855.3,241.3 856.3,240.6 857.4,239.4 858.5,239.0 859.5,238.5 860.6,238.3 861.6,238.4 862.7,238.2 863.7,238.3 865.0,239.7 866.2,241.2 867.5,241.9 868.8,240.2 870.0,239.2 871.3,237.1 872.6,238.7 873.8,239.7 875.1,240.2 876.1,241.2 877.1,242.2 878.2,243.4 879.2,244.5 880.2,246.0 881.3,245.8 882.3,246.5 883.4,247.1 884.5,247.2 885.5,247.0 886.6,247.2 887.6,247.4 888.7,247.7 889.7,246.9 890.8,247.6 891.8,247.5 891.8,249.3 62.0,249.3" fill="#d4a82a"/>
<line x1="62" x2="892" y1="248.8" y2="248.8" stroke="#e0b530" stroke-width="1.2"/>
<polygon points="733.3,248.5 734.3,182.0 735.8,182.0 736.4,208.0 737.5,196.0 738.6,196.0 739.3,231.0 740.0,248.5" fill="#f6d54a" fill-opacity="0.9"/>
<polygon points="766.3,248.5 767.6,221.0 769.2,200.0 770.5,202.0 771.5,211.0 772.4,197.0 773.4,197.0 774.3,216.0 776.0,226.0 777.5,236.0 778.5,248.5" fill="#f6d54a" fill-opacity="0.9"/>
<line x1="62" x2="892" y1="291.6" y2="291.6" stroke="#333" stroke-width="1.3"/>
<text x="47.5" y="126.4" text-anchor="end" class="yl">1.500 <tspan class="yu" dy="1">w</tspan></text>
<text x="47.5" y="169.2" text-anchor="end" class="yl">1.000 <tspan class="yu" dy="1">w</tspan></text>
<text x="47.5" y="211.8" text-anchor="end" class="yl">500 <tspan class="yu" dy="1">w</tspan></text>
<text x="47.5" y="254.1" text-anchor="end" class="yl">0 <tspan class="yu" dy="1">w</tspan></text>
<text x="47.5" y="296.4" text-anchor="end" class="yl">-500 <tspan class="yu" dy="1">w</tspan></text>
<text class="xl" transform="translate(63.2,313.3) rotate(-45)" text-anchor="end">00:00</text>
<text class="xl" transform="translate(77.6,313.3) rotate(-45)" text-anchor="end">00:17</text>
<text class="xl" transform="translate(92.0,313.3) rotate(-45)" text-anchor="end">00:34</text>
<text class="xl" transform="translate(106.4,313.3) rotate(-45)" text-anchor="end">00:50</text>
<text class="xl" transform="translate(120.8,313.3) rotate(-45)" text-anchor="end">01:07</text>
<text class="xl" transform="translate(135.2,313.3) rotate(-45)" text-anchor="end">01:24</text>
<text class="xl" transform="translate(149.6,313.3) rotate(-45)" text-anchor="end">01:41</text>
<text class="xl" transform="translate(164.0,313.3) rotate(-45)" text-anchor="end">01:57</text>
<text class="xl" transform="translate(178.4,313.3) rotate(-45)" text-anchor="end">02:14</text>
<text class="xl" transform="translate(192.8,313.3) rotate(-45)" text-anchor="end">02:31</text>
<text class="xl" transform="translate(207.1,313.3) rotate(-45)" text-anchor="end">02:48</text>
<text class="xl" transform="translate(221.5,313.3) rotate(-45)" text-anchor="end">03:05</text>
<text class="xl" transform="translate(235.9,313.3) rotate(-45)" text-anchor="end">03:21</text>
<text class="xl" transform="translate(250.3,313.3) rotate(-45)" text-anchor="end">03:38</text>
<text class="xl" transform="translate(264.7,313.3) rotate(-45)" text-anchor="end">03:54</text>
<text class="xl" transform="translate(279.1,313.3) rotate(-45)" text-anchor="end">04:11</text>
<text class="xl" transform="translate(293.5,313.3) rotate(-45)" text-anchor="end">04:28</text>
<text class="xl" transform="translate(307.9,313.3) rotate(-45)" text-anchor="end">04:44</text>
<text class="xl" transform="translate(322.3,313.3) rotate(-45)" text-anchor="end">05:01</text>
<text class="xl" transform="translate(336.7,313.3) rotate(-45)" text-anchor="end">05:18</text>
<text class="xl" transform="translate(351.1,313.3) rotate(-45)" text-anchor="end">05:35</text>
<text class="xl" transform="translate(365.5,313.3) rotate(-45)" text-anchor="end">05:52</text>
<text class="xl" transform="translate(379.9,313.3) rotate(-45)" text-anchor="end">06:08</text>
<text class="xl" transform="translate(394.3,313.3) rotate(-45)" text-anchor="end">06:25</text>
<text class="xl" transform="translate(408.7,313.3) rotate(-45)" text-anchor="end">06:41</text>
<text class="xl" transform="translate(423.1,313.3) rotate(-45)" text-anchor="end">06:58</text>
<text class="xl" transform="translate(437.5,313.3) rotate(-45)" text-anchor="end">07:15</text>
<text class="xl" transform="translate(451.9,313.3) rotate(-45)" text-anchor="end">07:31</text>
<text class="xl" transform="translate(466.3,313.3) rotate(-45)" text-anchor="end">07:48</text>
<text class="xl" transform="translate(480.6,313.3) rotate(-45)" text-anchor="end">08:05</text>
<text class="xl" transform="translate(495.0,313.3) rotate(-45)" text-anchor="end">08:21</text>
<text class="xl" transform="translate(509.4,313.3) rotate(-45)" text-anchor="end">08:38</text>
<text class="xl" transform="translate(523.8,313.3) rotate(-45)" text-anchor="end">08:55</text>
<text class="xl" transform="translate(538.2,313.3) rotate(-45)" text-anchor="end">09:11</text>
<text class="xl" transform="translate(552.6,313.3) rotate(-45)" text-anchor="end">09:28</text>
<text class="xl" transform="translate(567.0,313.3) rotate(-45)" text-anchor="end">09:44</text>
<text class="xl" transform="translate(581.4,313.3) rotate(-45)" text-anchor="end">10:00</text>
<text class="xl" transform="translate(595.8,313.3) rotate(-45)" text-anchor="end">10:17</text>
<text class="xl" transform="translate(610.2,313.3) rotate(-45)" text-anchor="end">10:33</text>
<text class="xl" transform="translate(624.6,313.3) rotate(-45)" text-anchor="end">10:50</text>
<text class="xl" transform="translate(639.0,313.3) rotate(-45)" text-anchor="end">11:06</text>
<text class="xl" transform="translate(653.4,313.3) rotate(-45)" text-anchor="end">11:23</text>
<text class="xl" transform="translate(667.8,313.3) rotate(-45)" text-anchor="end">11:39</text>
<text class="xl" transform="translate(682.2,313.3) rotate(-45)" text-anchor="end">11:56</text>
<text class="xl" transform="translate(696.6,313.3) rotate(-45)" text-anchor="end">12:12</text>
<text class="xl" transform="translate(711.0,313.3) rotate(-45)" text-anchor="end">12:28</text>
<text class="xl" transform="translate(725.4,313.3) rotate(-45)" text-anchor="end">12:45</text>
<text class="xl" transform="translate(739.8,313.3) rotate(-45)" text-anchor="end">13:01</text>
<text class="xl" transform="translate(754.1,313.3) rotate(-45)" text-anchor="end">13:18</text>
<text class="xl" transform="translate(768.5,313.3) rotate(-45)" text-anchor="end">13:34</text>
<text class="xl" transform="translate(782.9,313.3) rotate(-45)" text-anchor="end">13:51</text>
<text class="xl" transform="translate(797.3,313.3) rotate(-45)" text-anchor="end">14:07</text>
<text class="xl" transform="translate(811.7,313.3) rotate(-45)" text-anchor="end">14:24</text>
<text class="xl" transform="translate(826.1,313.3) rotate(-45)" text-anchor="end">14:40</text>
<text class="xl" transform="translate(840.5,313.3) rotate(-45)" text-anchor="end">14:57</text>
<text class="xl" transform="translate(854.9,313.3) rotate(-45)" text-anchor="end">15:13</text>
<text class="xl" transform="translate(869.3,313.3) rotate(-45)" text-anchor="end">15:29</text>
<text class="xl" transform="translate(883.7,313.3) rotate(-45)" text-anchor="end">15:46</text>
</svg>

    <div class="pill" style="left:14.3px;top:67.6px;width:196px"><span class="cal"><svg width="11" height="12" viewBox="0 0 11 12"><rect x="0.5" y="1.6" width="10" height="9.9" rx="1.2" fill="#555"/><rect x="1.8" y="4.4" width="7.4" height="5.9" fill="#e6e6e6"/><g fill="#555"><rect x="2.6" y="5.2" width="1.4" height="1.1"/><rect x="4.8" y="5.2" width="1.4" height="1.1"/><rect x="7" y="5.2" width="1.4" height="1.1"/><rect x="2.6" y="7.4" width="1.4" height="1.1"/><rect x="4.8" y="7.4" width="1.4" height="1.1"/><rect x="7" y="7.4" width="1.4" height="1.1"/></g><rect x="2.3" y="0.2" width="1.4" height="2.6" fill="#555"/><rect x="7.3" y="0.2" width="1.4" height="2.6" fill="#555"/></svg></span><span class="dr">21-12-2023 - 21-12-2023</span><span class="day">Day</span></div>
    <div class="pill" style="left:813.8px;top:67.6px;width:73.4px"><i class="sep" style="left:24px"></i><i class="sep" style="left:48px"></i>
      <svg class="abs" style="left:9.5px;top:8px" width="6" height="8" viewBox="0 0 6 8"><path d="M5 0.5 V7.5 L0.6 4 Z" fill="#444"/></svg>
      <svg class="abs" style="left:33.5px;top:8px" width="6" height="8" viewBox="0 0 6 8"><path d="M1 0.5 V7.5 L5.4 4 Z" fill="#444"/></svg>
      <span class="abs" style="left:55.3px;top:5.1px"><svg width="10.4" height="12.8" viewBox="0 0 10.4 12.8"><rect x="2.2" y="0" width="1.5" height="2.8" rx="0.4" fill="#4a4a4a"/><rect x="6.7" y="0" width="1.5" height="2.8" rx="0.4" fill="#4a4a4a"/><rect x="0" y="1.7" width="10.4" height="2.4" rx="0.8" fill="#4a4a4a"/><rect x="0" y="4.6" width="10.4" height="8.1" rx="1" fill="#4a4a4a"/><rect x="1.2" y="6.5" width="3.2" height="3.1" fill="#e6e6e6"/></svg></span></div>
    <div class="leg" style="left:159.8px;top:353px"><i style="background:#fdd835"></i>Actual solar power</div>
    <div class="leg" style="left:290.0px;top:353px"><i style="background:#dcdcdc"></i>Plant power</div>
    <div class="leg" style="left:390.0px;top:353px"><i style="background:#7d7d7d"></i>Grid power</div>
    <div class="leg" style="left:485.0px;top:353px"><i style="background:#6a6352"></i>Plant power direct grid</div>
    <div class="leg" style="left:634.8px;top:353px"><i style="background:#f6b90d"></i>Plant power direct sun</div>
    <div class="abs" style="left:11px;top:345px;width:28px;height:28px;background:#e6e6e6;border-radius:3px"></div>
    <svg class="abs" style="left:17px;top:351px" width="16" height="16" viewBox="0 0 16 16"><path d="M8 1.5 V10.5 M4 6.8 L8 10.8 L12 6.8" fill="none" stroke="#555" stroke-width="1.9" stroke-linecap="round" stroke-linejoin="round"/><path d="M2.5 14 H13.5" stroke="#555" stroke-width="1.8" stroke-linecap="round"/></svg>
  </div>
  <div class="card" style="left:1199px;top:164px;width:290px;height:392px">
    <div class="ctitle">Plant consumption</div>
    <div class="src"><i class="dot"></i><span class="t">SolarGatewaySE</span></div>

    <svg class="abs" style="left:0;top:0" width="290" height="392" viewBox="0 0 290 392">
      <path d="M145.00,194.30 L145.00,110.90 A83.4,83.4 0 1 1 138.20,111.18 Z" fill="#b9b9b9" stroke="#f4f4f4" stroke-width="1.2" stroke-linejoin="round"/>
      <path d="M145.00,194.30 L138.20,111.18 A83.4,83.4 0 0 1 145.00,110.90 Z" fill="#fbe067" stroke="#f4f4f4" stroke-width="1.2" stroke-linejoin="round"/>
      <path d="M141.70000000000005,111.5 L140.5999999999999,79.80000000000001 L135.70000000000005,79.80000000000001" fill="none" stroke="#fbe067" stroke-width="1.3"/>
      <path d="M148.4000000000001,278 L149.79999999999995,306.8 L154.4000000000001,306.8" fill="none" stroke="#a8a8a8" stroke-width="1.1"/>
      <text x="122.5" y="84.6" text-anchor="end" class="pl">1.3%</text>
      <text x="164.79999999999995" y="312" class="pl">98.7%</text>
    </svg>
    <div class="leg2" style="left:69.90000000000009px;top:339.5px"><i style="background:#9b9b9b"></i>Relative plant power from grid</div>
    <div class="leg2" style="left:69.90000000000009px;top:355.4px"><i style="background:#fdd835"></i>Relative plant power from sun</div>
  </div>

  <!-- Row 2 -->
  <div class="card" style="left:281px;top:572px;width:392.5px;height:290px">
    <div class="ctitle">Plant overview</div>
    <div class="src"><i class="dot"></i><span class="t">SolarGatewaySE</span></div>

    <div class="ibox" style="left:14.5px;top:67.5px;width:363.5px;height:179px"></div>
    <svg class="abs" style="left:0;top:0" width="392" height="290" viewBox="0 0 392 290">
      <g transform="translate(24,100)">
        <path d="M28.4 9.5 V6.8 M17 12.6 L19.2 14.2 M39.8 12.6 L37.6 14.2" stroke="#fdd835" stroke-width="2.8" stroke-linecap="round"/>
        <path d="M19.1 23.2 A9.3 9.3 0 0 1 37.7 23.2 Z" fill="#fdd835"/>
        <path d="M12.6 23.2 L65.4 23.2 L71.2 57.6 Q71.4 59.6 69.4 59.6 L8.6 59.6 Q6.6 59.6 6.8 57.6 Z" fill="#d6d6d6" stroke="#cacaca" stroke-width="1"/>
        <g fill="#a9a9a9">
          <path d="M13.3 25.8 H29.6 L29.3 32.2 H12.5 Z"/><path d="M31.4 25.8 H46.5 L46.8 32.2 H31.1 Z"/><path d="M48.6 25.8 H64.6 L65.5 32.2 H49 Z"/>
          <path d="M12.1 34.7 H28.9 L28.6 41.5 H11.1 Z"/><path d="M30.5 34.7 H47 L47.3 41.5 H30.1 Z"/><path d="M49.5 34.7 H66.1 L67.1 41.5 H50 Z"/>
          <path d="M10.6 43.6 H28.1 L27.8 50.4 H9.6 Z"/><path d="M29.7 43.6 H47.6 L47.9 50.4 H29.4 Z"/><path d="M50.3 43.6 H67.6 L68.6 50.4 H50.7 Z"/>
          <rect x="8.6" y="52.5" width="60.8" height="5.2" rx="0.6"/>
        </g>
        <rect x="34.3" y="59.8" width="9.8" height="4.6" fill="#8a8a8a"/>
        <rect x="25.4" y="64.4" width="27.6" height="7.2" rx="1.6" fill="#b3b3b3"/>
      </g>
      <path d="M98.9 138.5 H169.5 M223.8 138.5 H314.5" stroke="#44596b" stroke-width="2.9" stroke-dasharray="10 10.1"/>
      <g transform="translate(164,108)">
        <path d="M7 5.1 H20.5 Q21.9 5.1 21.9 6.5 V27.9 L38 18.6 Q39.4 17.9 39.4 19.4 V27.9 L56.6 18.6 Q58.3 17.8 58.3 19.6 V49.3 Q58.3 50.8 56.8 50.8 H7.1 Q5.6 50.8 5.6 49.3 V6.5 Q5.6 5.1 7 5.1 Z" fill="#6a6a6a"/>
      </g>
      <g transform="translate(299,108)" fill="none" stroke-linecap="round">
        <path d="M24.4 7 H37.8 M24.4 7 L8.1 19.6 M37.8 7 L53.3 19.6 M24.4 7 V22 M37.8 7 V22" stroke="#c2c2c2" stroke-width="2"/>
        <path d="M8.1 20 V25.2 M53.3 20 V25.2" stroke="#c2c2c2" stroke-width="2"/>
        <path d="M24 22 L14.4 61.6 M38 22 L46.6 61.6" stroke="#c6c6c6" stroke-width="2"/>
        <path d="M24.5 24.5 L40.5 40 L16.5 61 M37.5 24.5 L21.5 40 L45 61" stroke="#a5a5a5" stroke-width="1.7"/>
        <path d="M8.3 20.2 H53.2" stroke="#8e8e8e" stroke-width="2.2"/>
        <path d="M6.8 62.9 H55.6" stroke="#c4c4c4" stroke-width="2"/>
        <path d="M48.1 35.9 L56.8 35.9 L53 47.4 L56 47.4 L44.4 61.6 L47.4 48.9 L44.1 48.9 Z" fill="#fdd835" stroke="none"/>
      </g>
    </svg>
    <div class="vbox" style="left:43.7px;top:185.2px;width:39.5px"><b>7</b><s>w</s></div>
    <div class="vbox" style="left:169.8px;top:185.2px;width:53.2px"><b>531</b><s>w</s></div>
    <div class="vbox" style="left:301.5px;top:185.2px;width:53.9px"><b>524</b><s>w</s></div>
    <div class="tdy"><span class="k">Total daily yield:</span><span class="v">600</span><span class="u">Wh</span></div>
  </div>
  <div class="card" style="left:688px;top:572px;width:342.4px;height:290px">
    <div class="ctitle">Inverter overview</div>
    <div class="src"><i class="dot"></i><span class="t">SolarGatewaySE / inverter:1</span></div>

    <div class="ibox" style="left:15.4px;top:67.9px;width:312.5px;height:84.8px"></div>
    <div class="kl" style="left:30.9px;top:87.0px">Active power:</div>
    <div class="kl" style="left:30.9px;top:117.0px;letter-spacing:-0.25px">Daily yield:</div>
    <div class="vb" style="left:181.9px;top:83.4px;width:129.8px"><span>9</span><em>W</em></div>
    <div class="vb" style="left:181.9px;top:113.0px;width:129.8px"><span>600</span><em>Wh</em></div>
    <div class="ibox" style="left:15.4px;top:168.2px;width:312.5px;height:109.8px"></div>
    <svg class="abs" style="left:142.2px;top:182.8px" width="59" height="80" viewBox="0 0 59 80">
      <path d="M2 0 H57 Q59 0 59 2 V64.5 H0 V2 Q0 0 2 0 Z" fill="#d3d3d3"/>
      <path d="M0 64.5 H59 V77.7 Q59 79.7 57 79.7 H2 Q0 79.7 0 77.7 Z" fill="#a2a2a2"/>
      <rect x="12.9" y="10.3" width="32.3" height="25.8" rx="2" fill="#9a9a9a"/>
      <rect x="17.8" y="15.2" width="23.2" height="9.6" fill="#85d700"/>
      <g fill="#d6d6d6"><circle cx="20.5" cy="31" r="0.9"/><circle cx="26.2" cy="31" r="0.9"/><circle cx="31.9" cy="31" r="0.9"/><circle cx="37.6" cy="31" r="0.9"/></g>
      <rect x="15.5" y="40.2" width="27.4" height="1.6" fill="#a5a5a5"/>
    </svg>
  </div>
  <div class="card" style="left:1045.2px;top:572px;width:443.8px;height:290px">
    <div class="ctitle">Inverter group</div>
    <div class="src"><i class="dot"></i><span class="t">SolarGatewaySE / inverter</span></div>

    <div class="ibox" style="left:15.8px;top:67.9px;width:414px;height:84.8px"></div>
    <div class="kl" style="left:31.0px;top:87.0px">Active power:</div>
    <div class="kl" style="left:31.0px;top:117.0px;letter-spacing:-0.25px">Daily yield:</div>
    <div class="vb" style="left:232.7px;top:83.4px;width:181.1px"><span>9</span><em>W</em></div>
    <div class="vb" style="left:232.7px;top:113.0px;width:181.1px"><span>600</span><em>Wh</em></div>
    <div class="ibox" style="left:15.8px;top:168.3px;width:414px;height:105.8px"></div>
    <div class="th" style="left:31.0px">Address</div>
    <div class="th" style="left:164.9px">Active power</div>
    <div class="th" style="left:299.9px">Daily yield</div>
    <div class="abs" style="left:31.1px;top:208.7px;width:382.8px;height:1px;background:#c9c9c9"></div>
    <div class="abs" style="left:31.1px;top:235.4px;width:382.8px;height:1px;background:#cfcfcf"></div>
    <i class="dot" style="left:35.4px;top:220.8px;width:6.5px;height:6.5px"></i>
    <div class="td" style="left:52.1px">1</div>
    <div class="td" style="left:164.7px">9<s class="w">w</s></div>
    <div class="td" style="left:299.7px">600<s>Wh</s></div>
  </div>

  <!-- Row 3 -->
  <div class="card" style="left:281px;top:878px;width:698px;height:120px">
    <div class="ctitle">EPEX chart</div>

    <div class="pill" style="left:14.5px;top:40.7px;width:196px"><span class="cal"><svg width="11" height="12" viewBox="0 0 11 12"><rect x="0.5" y="1.6" width="10" height="9.9" rx="1.2" fill="#555"/><rect x="1.8" y="4.4" width="7.4" height="5.9" fill="#e6e6e6"/><g fill="#555"><rect x="2.6" y="5.2" width="1.4" height="1.1"/><rect x="4.8" y="5.2" width="1.4" height="1.1"/><rect x="7" y="5.2" width="1.4" height="1.1"/><rect x="2.6" y="7.4" width="1.4" height="1.1"/><rect x="4.8" y="7.4" width="1.4" height="1.1"/><rect x="7" y="7.4" width="1.4" height="1.1"/></g><rect x="2.3" y="0.2" width="1.4" height="2.6" fill="#555"/><rect x="7.3" y="0.2" width="1.4" height="2.6" fill="#555"/></svg></span><span class="dr">21-12-2023 - 21-12-2023</span><span class="day">Day</span></div>
    <div class="pill" style="left:610.3px;top:40.2px;width:73.5px">
      <svg class="abs" style="left:9.5px;top:8px" width="6" height="8" viewBox="0 0 6 8"><path d="M5 0.5 V7.5 L0.6 4 Z" fill="#444"/></svg>
      <svg class="abs" style="left:33.5px;top:8px" width="6" height="8" viewBox="0 0 6 8"><path d="M1 0.5 V7.5 L5.4 4 Z" fill="#444"/></svg>
      <span class="abs" style="left:55.3px;top:5.1px"><svg width="10.4" height="12.8" viewBox="0 0 10.4 12.8"><rect x="2.2" y="0" width="1.5" height="2.8" rx="0.4" fill="#4a4a4a"/><rect x="6.7" y="0" width="1.5" height="2.8" rx="0.4" fill="#4a4a4a"/><rect x="0" y="1.7" width="10.4" height="2.4" rx="0.8" fill="#4a4a4a"/><rect x="0" y="4.6" width="10.4" height="8.1" rx="1" fill="#4a4a4a"/><rect x="1.2" y="6.5" width="3.2" height="3.1" fill="#e6e6e6"/></svg></span></div>
  </div>
  <div class="card" style="left:994.6px;top:878px;width:239.8px;height:120px">
    <div class="ctitle">Actual EPEX price</div>

    <svg class="abs" style="left:15.3px;top:41px" width="13" height="13" viewBox="0 0 13 13"><circle cx="6.5" cy="6.5" r="6" fill="#2f2f2f"/><path d="M2.2 3.2 Q3.6 2.4 4.6 3.4 Q5.6 4.6 4.4 5.8 Q3.6 6.6 4.6 7.8 Q5.4 9 4.6 10.6 Q3.2 9.8 2.4 8.2 Q1.6 6.2 2.2 3.2 Z M7.6 1.4 Q9.6 1.8 10.8 3.4 Q9.6 4.2 8.4 3.6 Q7.4 3 7.6 1.4 Z M8.6 6.4 Q10 6 11.6 7.2 Q11.2 9.6 9.4 11 Q8.8 9.6 9.2 8.4 Q8.4 7.6 8.6 6.4 Z" fill="#f4f4f4"/></svg>
    <div class="src" style="left:33px;top:40px">Netherlands</div>
  </div>
  <div class="card" style="left:1249.5px;top:878px;width:239.5px;height:120px">
    <div class="ctitle">Gauge meter</div>
    <div class="src"><i class="dot"></i><span class="t">SolarGatewaySE</span></div>
  </div>
</div></div>
</body></html>
